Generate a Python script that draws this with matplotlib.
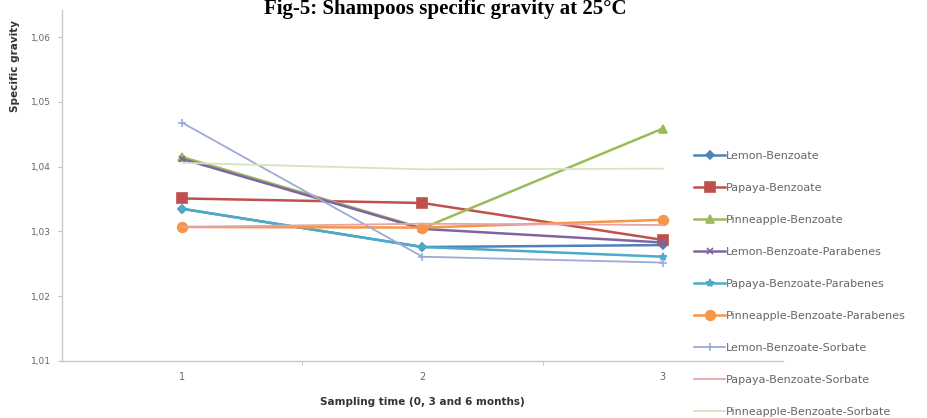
import matplotlib.pyplot as plt
import numpy as np

# sampling points (0, 3 and 6 months)
months = [1, 2, 3]

series_names = ['Lemon-Benzoate', 'Papaya-Benzoate', 'Pinneapple-Benzoate',
                'Lemon-Benzoate-Parabenes', 'Papaya-Benzoate-Parabenes',
                'Pinneapple-Benzoate-Parabenes', 'Lemon-Benzoate-Sorbate',
                'Papaya-Benzoate-Sorbate', 'Pinneapple-Benzoate-Sorbate']

lemon_benz = [1.0335, 1.0276, 1.0279]
papaya_benz = [1.0351, 1.0344, 1.0287]
pine_benz = [1.0415, 1.0305, 1.0459]
lemon_benz_par = [1.0412, 1.0304, 1.0283]
papaya_benz_par = [1.0335, 1.0276, 1.0261]
pine_benz_par = [1.0307, 1.0306, 1.0318]
lemon_benz_sorb = [1.0468, 1.0261, 1.0252]
papaya_benz_sorb = [1.0307, 1.0312, 1.0310]
pine_benz_sorb = [1.0406, 1.0396, 1.0397]

yticks = [1.01, 1.02, 1.03, 1.04, 1.05, 1.06]
ytick_labels = ['1,01', '1,02', '1,03', '1,04', '1,05', '1,06']

all_series = [lemon_benz, papaya_benz, pine_benz, lemon_benz_par, papaya_benz_par,
              pine_benz_par, lemon_benz_sorb, papaya_benz_sorb, pine_benz_sorb]
colors = ['#4F81BD', '#C0504D', '#9BBB59', '#8064A2', '#4BACC6',
          '#F79646', '#9DA9D8', '#E6A5A4', '#D7E4BD']
markers = ['D', 's', '^', 'x', '*', 'o', '+', None, None]
sizes = [4, 7, 6, 5, 6, 7, 6, 0, 0]
widths = [1.8, 1.8, 1.8, 1.8, 1.8, 1.8, 1.3, 1.3, 1.3]

fig = plt.figure(figsize=(9.28, 4.18), dpi=100)
ax = fig.add_axes([62/928, 57/418, (783-62)/928, (361-10)/418])

for vals, name, c, m, s, w in zip(all_series, series_names, colors, markers, sizes, widths):
    ax.plot(months, vals, color=c, marker=m, markersize=s, linewidth=w, label=name,
            markeredgewidth=1.2)

ax.set_xlim(0.5, 3.5)
ax.set_ylim(1.01, 1.0642)
ax.set_yticks(yticks)
ax.set_yticklabels(ytick_labels)
ax.set_xticks(months)
ax.set_xticks([1.5, 2.5], minor=True)
ax.tick_params(axis='x', which='major', length=0, labelsize=7, colors='#666666', pad=8)
ax.tick_params(axis='x', which='minor', length=3, color='#c0c0c0')
ax.tick_params(axis='y', length=3, color='#c0c0c0', labelsize=6.5, labelcolor='#666666', pad=5)
for sp in ['top', 'right']:
    ax.spines[sp].set_visible(False)
for sp in ['left', 'bottom']:
    ax.spines[sp].set_color('#c8c8c8')
    ax.spines[sp].set_linewidth(1)

ax.set_xlabel('Sampling time (0, 3 and 6 months)', fontsize=7.5, fontweight='bold',
              color='#333333', labelpad=11)
ax.set_ylabel('Specific gravity', fontsize=7.5, fontweight='bold', color='#333333')
ax.yaxis.set_label_coords(-0.058, 0.84)

fig.legend(loc='upper left', bbox_to_anchor=(694/928, 1 - 151/418), frameon=False,
           fontsize=8, labelspacing=1.98, handlelength=2.8, handletextpad=0.1,
           labelcolor='#666666', borderaxespad=0, borderpad=0)

fig.text(0.48, 1 - 14/418, 'Fig-5: Shampoos specific gravity at 25°C',
         family='Liberation Serif', fontweight='bold', fontsize=15,
         ha='center', va='baseline')

fig.savefig('out.png', dpi=100)
